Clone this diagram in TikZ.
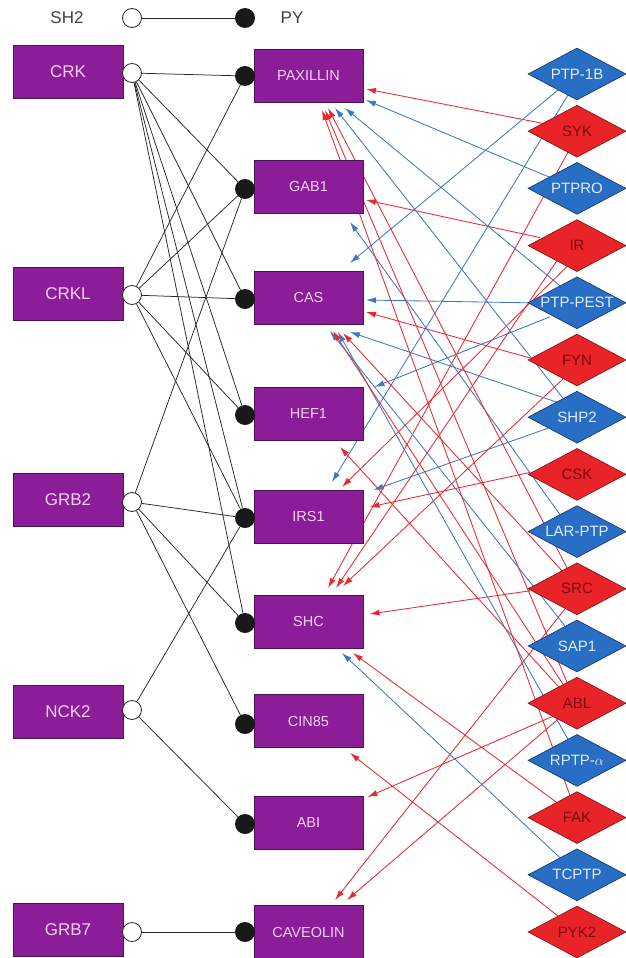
\documentclass[tikz,border=0pt]{standalone}
\usepackage{fontspec}
\setmainfont{Liberation Sans}
\usetikzlibrary{shapes.geometric,arrows.meta,calc}
\definecolor{boxfill}{RGB}{139,30,152}
\definecolor{boxedge}{RGB}{75,20,85}
\definecolor{boxtext}{RGB}{246,208,246}
\definecolor{ptpfill}{RGB}{40,110,196}
\definecolor{ptpedge}{RGB}{22,50,100}
\definecolor{ptptext}{RGB}{222,236,250}
\definecolor{kinfill}{RGB}{232,36,40}
\definecolor{kinedge}{RGB}{120,20,20}
\definecolor{kintext}{RGB}{125,10,10}
\definecolor{arred}{RGB}{232,42,48}
\definecolor{arblue}{RGB}{58,122,196}
\pgfdeclarelayer{bg}
\pgfsetlayers{bg,main}
\tikzset{
  lbox/.style={draw=boxedge, line width=0.6pt, fill=boxfill, minimum width=110pt, minimum height=53pt, inner sep=0pt, text=boxtext, font=\fontsize{17}{17}\selectfont},
  mbox/.style={draw=boxedge, line width=0.6pt, fill=boxfill, minimum width=109pt, minimum height=53pt, inner sep=0pt, text=boxtext, font=\fontsize{14.5}{14.5}\selectfont},
  sh/.style={circle, draw=black!85, fill=white, line width=0.8pt, minimum size=19pt, inner sep=0pt},
  pyd/.style={circle, fill=black!90, minimum size=20pt, inner sep=0pt},
  kin/.style={diamond, aspect=1.88, minimum width=98pt, minimum height=52pt, inner sep=0pt, fill=kinfill, draw=kinedge, line width=0.6pt, text=kintext, font=\fontsize{15}{15}\selectfont},
  ptp/.style={diamond, aspect=1.88, minimum width=98pt, minimum height=52pt, inner sep=0pt, fill=ptpfill, draw=ptpedge, line width=0.6pt, text=ptptext, font=\fontsize{15}{15}\selectfont},
  link/.style={draw=black!85, line width=0.75pt},
  redar/.style={draw=arred, line width=0.85pt, -{Latex[length=10pt,width=6pt]}},
  bluar/.style={draw=arblue, line width=0.85pt, -{Latex[length=10pt,width=6pt]}},
  legtext/.style={font=\fontsize{17}{17}\selectfont, text=black!75}
}
\begin{document}
\begin{tikzpicture}[x=1pt,y=-1pt]
\useasboundingbox (0,0) rectangle (625,958);
% legend
\node[legtext] (lsh) at (67,18) {SH2};
\node[legtext] (lpy) at (292,18) {PY};
\node[sh] (lc1) at (132,18) {};
\node[pyd] (lc2) at (245,18) {};
\draw[link] (lc1) -- (lc2);
% left boxes
\node[lbox] (CRK) at (68,72) {CRK};
\node[lbox] (CRKL) at (68,294) {CRKL};
\node[lbox] (GRB2) at (68,500) {GRB2};
\node[lbox] (NCK2) at (68,712) {NCK2};
\node[lbox] (GRB7) at (68,930) {GRB7};
\node[sh] (sCRK) at (132,73) {};
\node[sh] (sCRKL) at (132,295) {};
\node[sh] (sGRB2) at (132,502) {};
\node[sh] (sNCK2) at (132,710) {};
\node[sh] (sGRB7) at (132,932) {};
% middle boxes
\node[mbox] (PAX) at (308.5,76) {PAXILLIN};
\node[mbox] (GAB) at (308.5,187) {GAB1};
\node[mbox] (CAS) at (308.5,298) {CAS};
\node[mbox] (HEF) at (308.5,414) {HEF1};
\node[mbox] (IRS) at (308.5,517) {IRS1};
\node[mbox] (SHC) at (308.5,622) {SHC};
\node[mbox] (CIN) at (308.5,721) {CIN85};
\node[mbox] (ABI) at (308.5,823) {ABI};
\node[mbox] (CAV) at (308.5,932) {CAVEOLIN};
\node[pyd] (pPAX) at (245,76) {};
\node[pyd] (pGAB) at (245,189) {};
\node[pyd] (pCAS) at (245,299) {};
\node[pyd] (pHEF) at (245,415) {};
\node[pyd] (pIRS) at (245,518) {};
\node[pyd] (pSHC) at (245,623) {};
\node[pyd] (pCIN) at (245,724) {};
\node[pyd] (pABI) at (245,824) {};
\node[pyd] (pCAV) at (245,932) {};
% SH2 - PY links
\foreach \a/\b in {sCRK/pPAX, sCRK/pGAB, sCRK/pCAS, sCRK/pHEF, sCRK/pIRS, sCRK/pSHC,
  sCRKL/pPAX, sCRKL/pGAB, sCRKL/pCAS, sCRKL/pHEF, sCRKL/pIRS,
  sGRB2/pGAB, sGRB2/pIRS, sGRB2/pSHC, sGRB2/pCIN,
  sNCK2/pIRS, sNCK2/pABI, sGRB7/pCAV}
  \draw[link] (\a) -- (\b);
% diamonds
\node[ptp] (PTP1B) at (577,74) {PTP-1B};
\node[kin] (SYK) at (577,131.2) {SYK};
\node[ptp] (PTPRO) at (577,188.4) {PTPRO};
\node[kin] (IR) at (577,245.6) {IR};
\node[ptp] (PEST) at (577,302.8) {PTP-PEST};
\node[kin] (FYN) at (577,360) {FYN};
\node[ptp] (SHP) at (577,417.2) {SHP2};
\node[kin] (CSK) at (577,474.4) {CSK};
\node[ptp] (LAR) at (577,531.6) {LAR-PTP};
\node[kin] (SRC) at (577,588.8) {SRC};
\node[ptp] (SAP) at (577,646) {SAP1};
\node[kin] (ABL) at (577,703.2) {ABL};
\node[ptp] (RPTP) at (577,760.4) {RPTP-$\alpha$};
\node[kin] (FAK) at (577,817.6) {FAK};
\node[ptp] (TCPTP) at (577,874.8) {TCPTP};
\node[kin] (PYK) at (577,932) {PYK2};
% enzyme arrows
\begin{pgfonlayer}{bg}
\draw[redar] ([shift={(-35,-8)}]SYK.center) -- ([shift={(57.5,13)}]PAX.center);
\draw[bluar] ([shift={(-27,-11)}]PTPRO.center) -- ([shift={(57.5,24)}]PAX.center);
\draw[redar] ([shift={(-37,-8)}]IR.center) -- ([shift={(57.5,13)}]GAB.center);
\draw[bluar] ([shift={(-49,0)}]PEST.center) -- ([shift={(57.5,2)}]CAS.center);
\draw[redar] ([shift={(-47,-2)}]FYN.center) -- ([shift={(57.5,14)}]CAS.center);
\draw[bluar] ([shift={(-27,14)}]PEST.center) -- ([shift={(66,-27)}]HEF.center);
\draw[bluar] ([shift={(-29,11)}]SHP.center) -- ([shift={(65,-27)}]IRS.center);
\draw[redar] ([shift={(-47,-2)}]CSK.center) -- ([shift={(61,-10)}]IRS.center);
\draw[redar] ([shift={(-47,2)}]SRC.center) -- ([shift={(61,-8)}]SHC.center);
\draw[redar] ([shift={(-24,13)}]ABL.center) -- ([shift={(59,-26)}]ABI.center);
\draw[bluar] ([shift={(-19,16)}]PTP1B.center) -- ([shift={(41.5,-35)}]CAS.center);
\draw[bluar] ([shift={(-9,21)}]PTP1B.center) -- ([shift={(23.5,-35)}]IRS.center);
\draw[redar] ([shift={(-9,21)}]SYK.center) -- ([shift={(19.5,-34)}]SHC.center);
\draw[redar] ([shift={(-10,21)}]IR.center) -- ([shift={(33.5,-30)}]IRS.center);
\draw[redar] ([shift={(-20,15)}]IR.center) -- ([shift={(27.5,-34)}]SHC.center);
\draw[redar] ([shift={(-14,19)}]FYN.center) -- ([shift={(34.5,-36)}]SHC.center);
\draw[redar] ([shift={(-12,20)}]SRC.center) -- ([shift={(26.5,-32)}]CAV.center);
\draw[redar] ([shift={(-19,16)}]ABL.center) -- ([shift={(38.5,-32)}]CAV.center);
\draw[redar] ([shift={(-19,-16)}]PYK.center) -- ([shift={(41.5,32)}]CIN.center);
\draw[bluar] ([shift={(-17,-17)}]TCPTP.center) -- ([shift={(33.5,31)}]SHC.center);
\draw[redar] ([shift={(-20,-15)}]FAK.center) -- ([shift={(44.5,31)}]SHC.center);
\draw[bluar] ([shift={(-17,-17)}]PEST.center) -- ([shift={(36.5,32)}]PAX.center);
\draw[bluar] ([shift={(-14,-19)}]SHP.center) -- ([shift={(26.5,32)}]PAX.center);
\draw[bluar] ([shift={(-17,-17)}]LAR.center) -- ([shift={(41.5,35)}]GAB.center);
\draw[bluar] ([shift={(-12,-20)}]SAP.center) -- ([shift={(21.5,33)}]CAS.center);
\draw[bluar] ([shift={(-9,-21)}]RPTP.center) -- ([shift={(29.5,34)}]CAS.center);
\draw[bluar] ([shift={(-20,-15)}]SHP.center) -- ([shift={(41.5,34)}]CAS.center);
\draw[redar] ([shift={(-7,-22)}]FAK.center) -- ([shift={(13.5,34)}]PAX.center);
\draw[redar] ([shift={(-10,-21)}]ABL.center) -- ([shift={(16.5,34)}]PAX.center);
\draw[redar] ([shift={(-10,-21)}]SRC.center) -- ([shift={(19.5,32)}]PAX.center);
\draw[redar] ([shift={(-14,-19)}]ABL.center) -- ([shift={(24.5,33)}]CAS.center);
\draw[redar] ([shift={(-15,-18)}]SRC.center) -- ([shift={(34.5,35)}]CAS.center);
\draw[redar] ([shift={(-18,-16)}]ABL.center) -- ([shift={(31.5,33)}]HEF.center);
\end{pgfonlayer}
\end{tikzpicture}
\end{document}
